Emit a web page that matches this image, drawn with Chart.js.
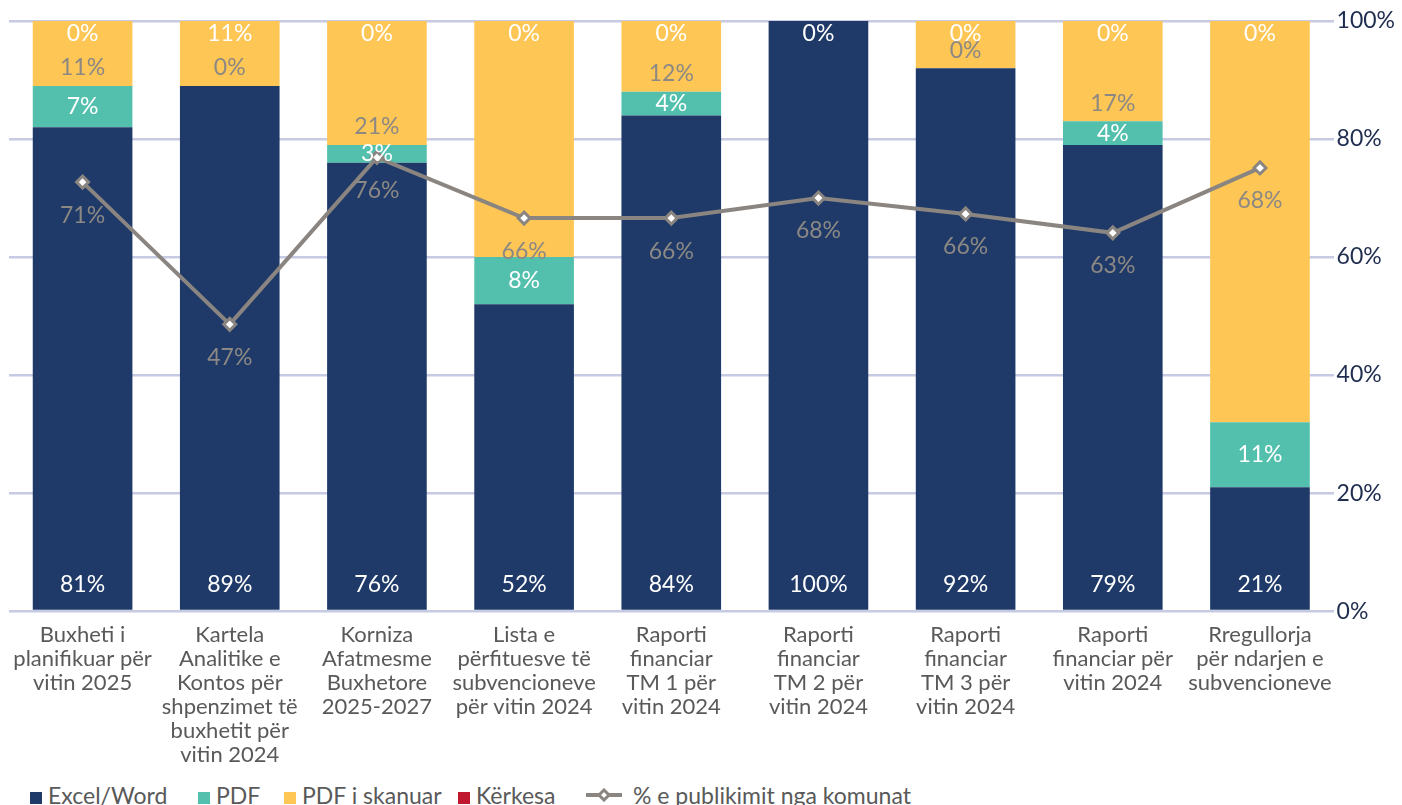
<!DOCTYPE html>
<html>
<head>
<meta charset="utf-8">
<script src="https://cdn.jsdelivr.net/npm/chart.js@4.4.1/dist/chart.umd.min.js"></script>
<style>
  html, body { margin: 0; padding: 0; background: #fff; overflow: hidden; }
  #wrap { position: relative; width: 1402px; height: 805px; }
  #chartBox { position: absolute; left: 0; top: 0; width: 1402px; height: 771px; }
  #legend { position: absolute; left: 0; top: 781px; width: 1402px; height: 30px; font-family: Lato, sans-serif; font-size: 23px; color: #595959; white-space: nowrap; }
  #legend span.item { position: absolute; top: 0; }
  #legend i { display: inline-block; width: 12px; height: 12px; margin-right: 6px; vertical-align: 0px; }
  #legend canvas { vertical-align: 2px; margin-right: 11px; }
</style>
</head>
<body>
<div id="wrap">
  <div id="chartBox"><canvas id="chart"></canvas></div>
  <div id="legend"></div>
</div>
<script>
// Kategoritë
const categories = [
    ['Buxheti i', 'planifikuar për', 'vitin 2025'],
    ['Kartela', 'Analitike e', 'Kontos për', 'shpenzimet të', 'buxhetit për', 'vitin 2024'],
    ['Korniza', 'Afatmesme', 'Buxhetore', '2025-2027'],
    ['Lista e', 'përfituesve të', 'subvencioneve', 'për vitin 2024'],
    ['Raporti', 'financiar', 'TM 1 për', 'vitin 2024'],
    ['Raporti', 'financiar', 'TM 2 për', 'vitin 2024'],
    ['Raporti', 'financiar', 'TM 3 për', 'vitin 2024'],
    ['Raporti', 'financiar për', 'vitin 2024'],
    ['Rregullorja', 'për ndarjen e', 'subvencioneve']
];

// Vlerat e serive (%)
const excelWord = [82, 89, 76, 52, 84, 100, 92, 79, 21];
const pdf       = [7, 0, 3, 8, 4, 0, 0, 4, 11];
const pdfSkan   = [11, 11, 21, 40, 12, 0, 8, 17, 68];
const kerkesa   = [0, 0, 0, 0, 0, 0, 0, 0, 0];
const publikimi = [72.7, 48.6, 76.9, 66.6, 66.6, 70.0, 67.3, 64.1, 75.1];

// Etiketat siç shfaqen në grafik
const excelLabels = ['81%', '89%', '76%', '52%', '84%', '100%', '92%', '79%', '21%'];
const pdfLabels   = ['7%', '', '3%', '8%', '4%', '', '', '4%', '11%'];
const skanLabels  = ['11%', '0%', '21%', '', '12%', '', '0%', '17%', ''];
const kerLabels   = ['0%', '11%', '0%', '0%', '0%', '0%', '0%', '0%', '0%'];
const lineLabels  = ['71%', '47%', '76%', '66%', '66%', '68%', '66%', '63%', '68%'];

const yTicks = [0, 20, 40, 60, 80, 100];

const colors = {
    excel: '#1f3a68',
    pdf: '#53c0ad',
    skan: '#fec655',
    ker: '#c0192f',
    line: '#8a8580'
};

const FONT = 'Lato, "Open Sans", sans-serif';

// Etiketat e vlerave
const valueLabels = {
    id: 'valueLabels',
    afterDatasetsDraw(chart) {
        const ctx = chart.ctx;
        ctx.save();
        ctx.font = '23px ' + FONT;
        ctx.textAlign = 'center';
        ctx.textBaseline = 'middle';
        const metaExcel = chart.getDatasetMeta(0);
        const metaPdf = chart.getDatasetMeta(1);
        const metaSkan = chart.getDatasetMeta(2);
        const metaKer = chart.getDatasetMeta(3);
        const metaLine = chart.getDatasetMeta(4);
        categories.forEach((c, i) => {
            let b = metaExcel.data[i];
            ctx.fillStyle = '#ffffff';
            ctx.fillText(excelLabels[i], b.x, b.base - 25);
            b = metaPdf.data[i];
            if (pdfLabels[i]) ctx.fillText(pdfLabels[i], b.x, (b.y + b.base) / 2);
            b = metaKer.data[i];
            ctx.fillText(kerLabels[i], b.x, b.y + 13);
            ctx.fillStyle = '#8c8884';
            b = metaSkan.data[i];
            if (skanLabels[i]) ctx.fillText(skanLabels[i], b.x, b.base - 18);
            const p = metaLine.data[i];
            ctx.fillText(lineLabels[i], p.x, p.y + 33);
        });
        ctx.restore();
    }
};

const ctx = document.getElementById('chart').getContext('2d');
new Chart(ctx, {
    type: 'bar',
    data: {
        labels: categories,
        datasets: [
            { label: 'Excel/Word', data: excelWord, backgroundColor: colors.excel, order: 1 },
            { label: 'PDF', data: pdf, backgroundColor: colors.pdf, order: 1 },
            { label: 'PDF i skanuar', data: pdfSkan, backgroundColor: colors.skan, order: 1 },
            { label: 'Kërkesa', data: kerkesa, backgroundColor: colors.ker, order: 1 },
            {
                type: 'line',
                label: '% e publikimit nga komunat',
                data: publikimi,
                yAxisID: 'yLine',
                borderColor: colors.line,
                borderWidth: 4,
                pointStyle: 'rectRot',
                pointRadius: 6,
                pointBorderWidth: 3,
                pointBackgroundColor: '#ffffff',
                pointBorderColor: colors.line,
                order: 0
            }
        ]
    },
    options: {
        responsive: true,
        maintainAspectRatio: false,
        animation: false,
        datasets: {
            bar: { categoryPercentage: 1, barPercentage: 0.677 }
        },
        layout: { padding: { left: 8, right: 4, top: 21, bottom: 0 } },
        plugins: {
            legend: { display: false },
            tooltip: { enabled: false }
        },
        scales: {
            x: {
                stacked: true,
                grid: { display: false },
                border: { display: false },
                ticks: {
                    color: '#595959',
                    font: { family: FONT, size: 22, lineHeight: 1.09 },
                    maxRotation: 0,
                    autoSkip: false,
                    padding: 4
                }
            },
            y: {
                stacked: true,
                position: 'right',
                min: 0,
                max: 100,
                afterBuildTicks: axis => { axis.ticks = yTicks.map(v => ({ value: v })); },
                grid: { color: '#c6cae2', lineWidth: 2.5, drawTicks: false },
                border: { display: false },
                ticks: {
                    color: '#1f2d4e',
                    font: { family: FONT, size: 23 },
                    padding: 3,
                    callback: v => v + '%'
                }
            },
            yLine: {
                display: false,
                min: 0,
                max: 100
            }
        }
    },
    plugins: [valueLabels]
});

// Legjenda
const legendItems = [
    { text: 'Excel/Word', color: colors.excel, left: 30 },
    { text: 'PDF', color: colors.pdf, left: 198 },
    { text: 'PDF i skanuar', color: colors.skan, left: 284 },
    { text: 'Kërkesa', color: colors.ker, left: 458 },
    { text: '% e publikimit nga komunat', line: true, left: 586 }
];
const legend = document.getElementById('legend');
legendItems.forEach(item => {
    const span = document.createElement('span');
    span.className = 'item';
    span.style.left = item.left + 'px';
    if (item.line) {
        const c = document.createElement('canvas');
        c.width = 36; c.height = 14;
        const g = c.getContext('2d');
        g.strokeStyle = colors.line;
        g.lineWidth = 4;
        g.beginPath(); g.moveTo(0, 7); g.lineTo(36, 7); g.stroke();
        g.lineWidth = 3;
        g.fillStyle = '#fff';
        g.beginPath(); g.moveTo(18, 2); g.lineTo(23, 7); g.lineTo(18, 12); g.lineTo(13, 7); g.closePath();
        g.fill(); g.stroke();
        span.appendChild(c);
    } else {
        const box = document.createElement('i');
        box.style.background = item.color;
        span.appendChild(box);
    }
    span.appendChild(document.createTextNode(item.text));
    legend.appendChild(span);
});
</script>
</body>
</html>
